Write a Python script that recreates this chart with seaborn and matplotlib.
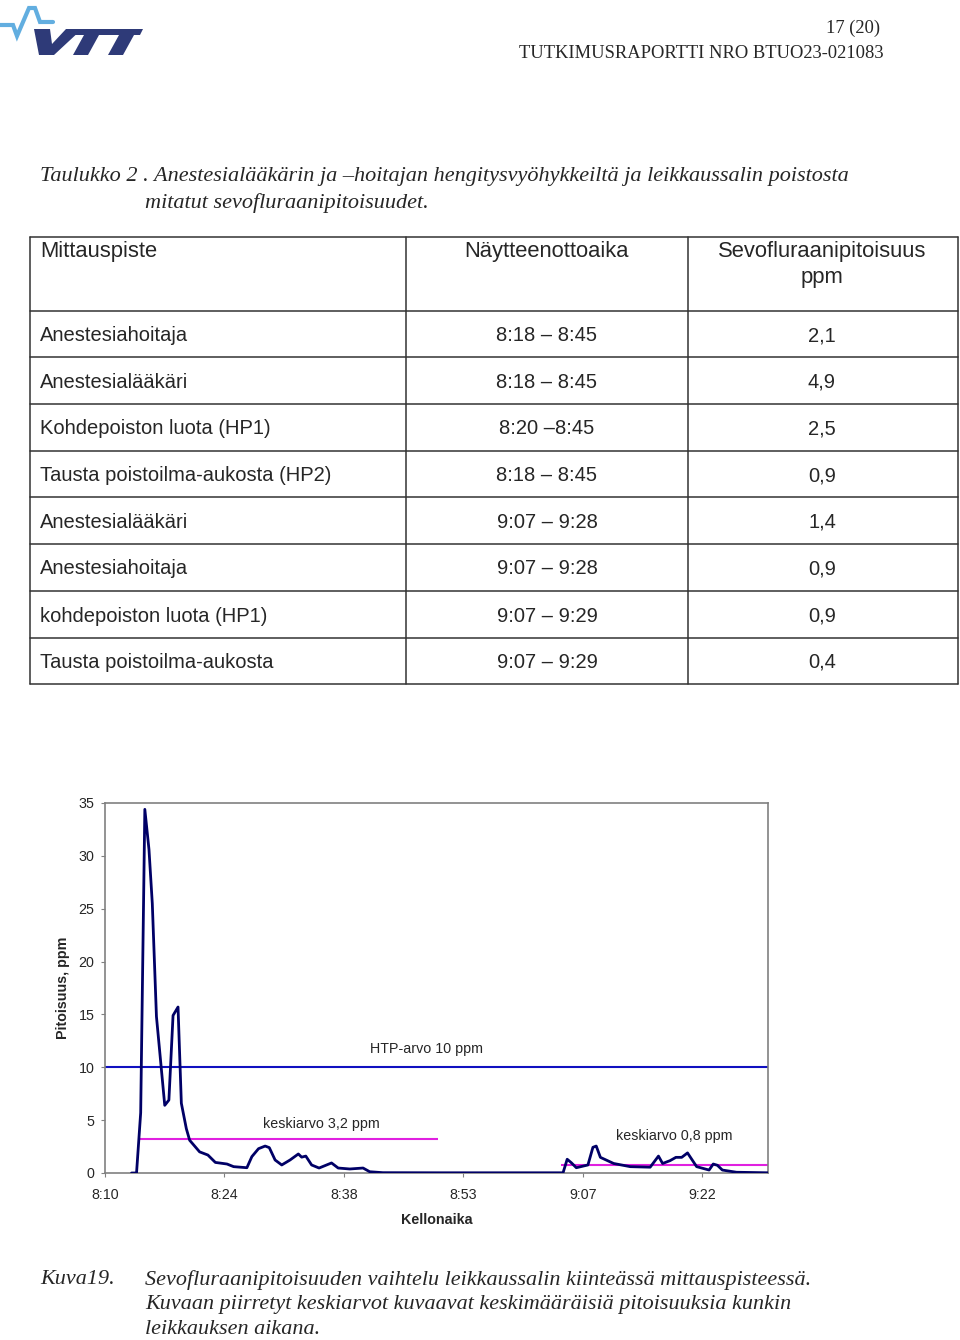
import matplotlib
matplotlib.use("Agg")
import matplotlib.pyplot as plt
import seaborn as sns
import pandas as pd
from matplotlib.patches import Polygon

# ---------------- data ----------------
# time in minutes after 8:00, concentration in ppm
time_min = [12.8, 13.4, 13.9, 14.4, 14.9, 15.3, 15.8, 16.8, 17.3, 17.8,
            18.4, 18.8, 19.4, 19.8, 21.0, 22.0, 22.9, 24.3, 25.1, 26.7,
            27.3, 28.1, 28.9, 29.4, 30.1, 30.9, 31.9, 32.9, 33.3, 33.8,
            34.5, 35.4, 36.9, 37.7, 39.1, 40.7, 41.5, 43.1, 50.0, 57.2,
            64.8, 65.3, 65.8, 66.4, 67.8, 68.4, 68.8, 69.3, 70.9, 72.9,
            75.3, 76.3, 76.8, 77.7, 78.4, 79.1, 79.8, 80.9, 82.4, 82.9,
            83.4, 84.0, 85.7, 89.5]
ppm = [0, 0, 5.7, 34.4, 30.6, 25.5, 14.8, 6.4, 6.9, 14.9,
       15.7, 6.6, 4.2, 3.1, 2.0, 1.7, 1.0, 0.85, 0.6, 0.5,
       1.55, 2.3, 2.55, 2.4, 1.23, 0.76, 1.23, 1.8, 1.5, 1.6,
       0.76, 0.47, 0.95, 0.47, 0.38, 0.47, 0.12, 0.03, 0.02, 0.02,
       0.02, 1.3, 0.97, 0.5, 0.76, 2.43, 2.55, 1.48, 0.9, 0.6,
       0.55, 1.6, 0.9, 1.17, 1.48, 1.48, 1.9, 0.6, 0.28, 0.85,
       0.73, 0.28, 0.07, 0.02]

htp_value = 10
mean_values = [3.2, 0.8]
mean_start = [13.6, 64.5]
mean_end = [49.7, 89.5]
mean_labels = ["keskiarvo 3,2 ppm", "keskiarvo 0,8 ppm"]

x_ticks = [9.6, 24.0, 38.4, 52.8, 67.2, 81.6]
x_tick_labels = ["8:10", "8:24", "8:38", "8:53", "9:07", "9:22"]
x_range = [9.6, 89.5]
y_ticks = [0, 5, 10, 15, 20, 25, 30, 35]

table_header = ["Mittauspiste", "Näytteenottoaika", "Sevofluraanipitoisuus", "ppm"]
table_points = ["Anestesiahoitaja", "Anestesialääkäri", "Kohdepoiston luota (HP1)",
                "Tausta poistoilma-aukosta (HP2)", "Anestesialääkäri", "Anestesiahoitaja",
                "kohdepoiston luota (HP1)", "Tausta poistoilma-aukosta"]
table_times = ["8:18 – 8:45", "8:18 – 8:45", "8:20 –8:45", "8:18 – 8:45",
               "9:07 – 9:28", "9:07 – 9:28", "9:07 – 9:29", "9:07 – 9:29"]
table_values = ["2,1", "4,9", "2,5", "0,9", "1,4", "0,9", "0,9", "0,4"]

# ---------------- figure ----------------
sns.set_theme(style="ticks")
plt.rcParams['font.family'] = ['Liberation Sans', 'DejaVu Sans']

W, H = 960, 1340
fig = plt.figure(figsize=(W / 100, H / 100), dpi=100)
fig.patch.set_facecolor("white")

bg = fig.add_axes([0, 0, 1, 1], zorder=0)
bg.set_xlim(0, W)
bg.set_ylim(H, 0)
bg.axis("off")

# logo (decorative)
bg.plot([0, 13, 17, 29, 35, 40, 53], [25, 25, 36, 8, 8, 22, 22],
        color="#62AEE0", lw=3.0, solid_joinstyle="miter")
navy_logo = "#2E3A78"
for poly in ([(34, 29), (50, 29), (52, 44), (66, 29), (82, 29), (54, 55), (39, 55)],
             [(68, 29), (143, 29), (140, 35), (70, 35)],
             [(84, 35), (99, 35), (88, 55), (73, 55)],
             [(119, 35), (134, 35), (123, 55), (108, 55)]):
    bg.add_patch(Polygon(poly, closed=True, color=navy_logo, lw=0))

serif = ['Liberation Serif', 'DejaVu Serif']
bg.text(880, 28, "17 (20)", ha="right", va="center", fontsize=13.3, family=serif)
bg.text(884, 53, "TUTKIMUSRAPORTTI NRO BTUO23-021083", ha="right", va="center",
        fontsize=13.3, family=serif)

bg.text(40, 177, "Taulukko 2 . Anestesialääkärin ja –hoitajan hengitysvyöhykkeiltä ja leikkaussalin poistosta",
        ha="left", va="center", fontsize=16, family=serif, style="italic")
bg.text(145, 203, "mitatut sevofluraanipitoisuudet.", ha="left", va="center",
        fontsize=16, family=serif, style="italic")

# table
tcol = "#333333"
left, right = 30, 958
col_x = [406, 688]
row_y = [237, 311, 357, 404, 451, 497, 544, 591, 638, 684]
for y in row_y:
    bg.plot([left, right], [y, y], color=tcol, lw=1.1)
for x in [left] + col_x + [right]:
    bg.plot([x, x], [row_y[0], row_y[-1]], color=tcol, lw=1.1)

bg.text(40, 252, table_header[0], ha="left", va="center", fontsize=15.8)
bg.text(547, 252, table_header[1], ha="center", va="center", fontsize=15.8)
bg.text(822, 252, table_header[2], ha="center", va="center", fontsize=15.8)
bg.text(822, 278, table_header[3], ha="center", va="center", fontsize=15.8)
for i in range(len(table_points)):
    yc = (row_y[i + 1] + row_y[i + 2]) / 2 + 1.5
    bg.text(40, yc, table_points[i], ha="left", va="center", fontsize=14.5)
    bg.text(547, yc, table_times[i], ha="center", va="center", fontsize=14.5)
    bg.text(822, yc, table_values[i], ha="center", va="center", fontsize=14.5)

# caption
bg.text(40, 1280, "Kuva19.", ha="left", va="center", fontsize=15.9, family=serif, style="italic")
cap = ["Sevofluraanipitoisuuden vaihtelu leikkaussalin kiinteässä mittauspisteessä.",
       "Kuvaan piirretyt keskiarvot kuvaavat keskimääräisiä pitoisuuksia kunkin",
       "leikkauksen aikana."]
for k, line in enumerate(cap):
    bg.text(145, 1280 + 25 * k, line, ha="left", va="center", fontsize=15.9,
            family=serif, style="italic")

# ---------------- chart ----------------
ax_l, ax_r, ax_t, ax_b = 105, 768, 803, 1173
ax = fig.add_axes([ax_l / W, 1 - ax_b / H, (ax_r - ax_l) / W, (ax_b - ax_t) / H], zorder=2)
ax.set_facecolor("none")

df = pd.DataFrame({"aika": time_min, "ppm": ppm})
sns.lineplot(data=df, x="aika", y="ppm", ax=ax, color="#000066", lw=2.0,
             estimator=None, sort=False, zorder=3)
ax.axhline(htp_value, color="#1010C0", lw=1.5, zorder=2)
ax.hlines(mean_values, mean_start, mean_end, color="#E020E0", lw=1.5, zorder=2)

ax.text(41.5, 11.7, "HTP-arvo 10 ppm", ha="left", va="center", fontsize=10.3)
ax.text(28.6, 4.6, mean_labels[0], ha="left", va="center", fontsize=10.3)
ax.text(71.2, 3.5, mean_labels[1], ha="left", va="center", fontsize=10.3)

ax.set_xlim(*x_range)
ax.set_ylim(0, 35)
ax.set_xticks(x_ticks)
ax.set_xticklabels(x_tick_labels)
ax.set_yticks(y_ticks)
ax.tick_params(axis="both", labelsize=10.3, length=3, width=0.8, color="#808080",
               direction="out")
ax.tick_params(axis="x", pad=8)
ax.tick_params(axis="y", pad=4.5)
for s in ax.spines.values():
    s.set_visible(True)
    s.set_color("#808080")
    s.set_linewidth(1.2)

ax.set_xlabel("Kellonaika", fontsize=10.3, fontweight="bold", va="center")
ax.set_ylabel("Pitoisuus, ppm", fontsize=10.3, fontweight="bold", va="center")
ax.xaxis.set_label_coords(0.5, (ax_b - 1220) / (ax_b - ax_t))
ax.yaxis.set_label_coords((63 - ax_l) / (ax_r - ax_l), 0.5)

fig.savefig("out.png", dpi=100, facecolor="white")
